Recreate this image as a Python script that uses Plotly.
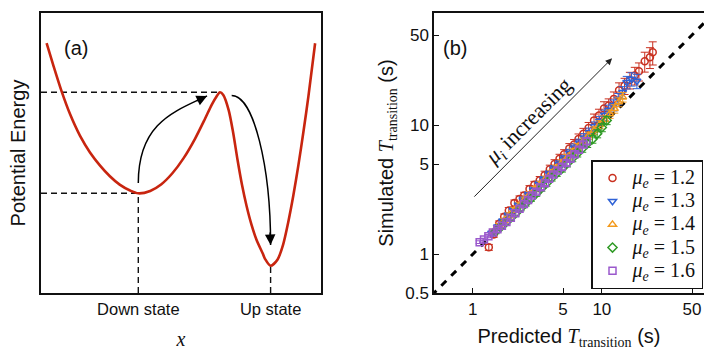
import numpy as np
import plotly.graph_objects as go

# ---------------- Panel (a): potential energy landscape (arbitrary units) ----------------
pot_x = [0.20, 0.44, 0.74, 1.04, 1.39, 1.75, 2.11, 2.46, 2.81, 3.18, 3.475,
         3.90, 4.30, 4.70, 5.10, 5.50, 5.85, 6.10, 6.27, 6.39,
         6.51, 6.70, 6.86, 7.02, 7.18, 7.34, 7.52, 7.70, 7.92, 8.00, 8.20,
         8.45, 8.65, 8.83, 9.01, 9.19, 9.37, 9.55, 9.79]
pot_u = [8.92, 8.13, 7.19, 6.38, 5.62, 5.02, 4.55, 4.17, 3.87, 3.66, 3.56,
         3.645, 3.885, 4.285, 4.825, 5.505, 6.205, 6.73, 7.02, 7.17,
         7.074, 6.542, 5.742, 4.75, 3.854, 3.118, 2.434, 1.894, 1.41, 1.22, 0.975,
         1.20, 1.74, 2.53, 3.47, 4.55, 5.74, 7.02, 8.92]
state_labels = ["Down state", "Up state"]
down_idx, peak_idx, up_idx = 10, 19, 30

# ---------------- Panel (b): simulated vs predicted transition times ----------------
mu_e = ["1.2", "1.3", "1.4", "1.5", "1.6"]

x_12 = [1.33, 1.45, 1.6, 1.75, 1.9, 2.1, 2.3, 2.5, 2.75, 3.0, 3.3, 3.6, 3.95, 4.3, 4.7, 5.1,
        5.6, 6.1, 6.6, 7.2, 7.9, 8.7, 9.5, 10.4, 11.3, 12.4, 13.6, 15.0, 16.5, 18.0, 19.4,
        21.5, 23.6, 24.8]
y_12 = [1.13, 1.42, 1.72, 1.95, 2.18, 2.49, 2.68, 2.85, 3.2, 3.45, 3.75, 4.1, 4.55, 5.0, 5.5,
        5.96, 6.6, 7.1, 7.8, 8.6, 9.5, 10.9, 11.9, 13.5, 14.2, 16.0, 18.7, 20.2, 22.4, 24.3,
        26.2, 31.3, 33.7, 36.8]
e_12 = [0.06, 0.07, 0.09, 0.1, 0.12, 0.14, 0.15, 0.17, 0.2, 0.22, 0.25, 0.3, 0.35, 0.4, 0.45,
        0.5, 0.6, 0.65, 0.75, 0.85, 1.0, 1.3, 1.4, 1.7, 1.8, 2.1, 2.6, 2.9, 3.3, 3.8, 4.2,
        5.5, 6.2, 7.5]

x_13 = [1.4, 1.55, 1.7, 1.88, 2.05, 2.25, 2.45, 2.7, 2.95, 3.25, 3.55, 3.9, 4.25, 4.65, 5.1,
        5.6, 6.1, 6.7, 7.3, 8.0, 8.8, 9.6, 10.5, 11.3, 12.3, 13.4, 14.5, 15.6, 17.0, 18.7]
y_13 = [1.45, 1.62, 1.8, 2.0, 2.2, 2.4, 2.65, 2.9, 3.15, 3.5, 3.8, 4.2, 4.6, 5.0, 5.5, 6.1,
        6.7, 7.3, 8.0, 8.8, 9.8, 10.8, 12.0, 13.1, 14.3, 16.0, 18.0, 21.5, 22.8, 22.0]
e_13 = [0.06, 0.07, 0.08, 0.09, 0.1, 0.11, 0.13, 0.14, 0.16, 0.18, 0.2, 0.23, 0.26, 0.3,
        0.34, 0.4, 0.45, 0.5, 0.6, 0.7, 0.8, 0.9, 1.1, 1.2, 1.4, 1.6, 1.9, 2.4, 2.7, 2.8]

x_14 = [1.45, 1.6, 1.75, 1.92, 2.1, 2.3, 2.52, 2.77, 3.05, 3.35, 3.68, 4.05, 4.45, 4.9, 5.4,
        5.95, 6.55, 7.2, 7.9, 8.7, 9.6, 10.5, 11.5, 12.5, 13.5, 14.5]
y_14 = [1.5, 1.66, 1.82, 2.0, 2.2, 2.4, 2.65, 2.92, 3.2, 3.5, 3.85, 4.25, 4.65, 5.1, 5.6,
        6.2, 6.8, 7.5, 8.3, 9.1, 10.1, 11.0, 12.2, 13.4, 15.1, 16.5]
e_14 = [0.06, 0.07, 0.08, 0.09, 0.1, 0.11, 0.12, 0.14, 0.15, 0.17, 0.19, 0.22, 0.25, 0.28,
        0.32, 0.36, 0.4, 0.46, 0.52, 0.6, 0.7, 0.8, 0.9, 1.0, 1.2, 1.4]

x_15 = [1.5, 1.65, 1.8, 1.97, 2.15, 2.35, 2.57, 2.82, 3.1, 3.4, 3.72, 4.08, 4.47, 4.9, 5.37,
        5.9, 6.45, 7.05, 7.7, 8.45, 9.2, 10.0, 10.9]
y_15 = [1.5, 1.63, 1.76, 1.92, 2.08, 2.28, 2.48, 2.7, 2.96, 3.25, 3.55, 3.9, 4.25, 4.6, 5.05,
        5.55, 6.05, 6.6, 7.2, 7.8, 8.6, 9.6, 10.9]
e_15 = [0.06, 0.07, 0.08, 0.09, 0.1, 0.11, 0.12, 0.13, 0.15, 0.17, 0.19, 0.21, 0.24, 0.27,
        0.3, 0.34, 0.38, 0.43, 0.48, 0.55, 0.62, 0.7, 0.8]

x_16 = [1.13, 1.22, 1.32, 1.43, 1.55, 1.68, 1.82, 1.97, 2.13, 2.3, 2.49, 2.68, 2.87, 3.1, 3.35,
        3.62, 3.9, 4.2, 4.55, 4.9, 5.3, 5.7, 6.15, 6.65, 7.2, 7.6]
y_16 = [1.24, 1.3, 1.38, 1.47, 1.56, 1.66, 1.78, 1.92, 2.08, 2.25, 2.45, 2.63, 2.85, 3.05,
        3.3, 3.55, 3.85, 4.15, 4.45, 4.75, 5.1, 5.5, 5.95, 6.45, 7.1, 7.5]
e_16 = [0.03, 0.03, 0.04, 0.04, 0.05, 0.05, 0.06, 0.06, 0.07, 0.08, 0.09, 0.1, 0.11, 0.12,
        0.13, 0.14, 0.16, 0.17, 0.19, 0.2, 0.22, 0.24, 0.27, 0.3, 0.33, 0.36]

diag = [0.4, 90.0]
y_ticks = [0.5, 1, 5, 10, 50]
y_tick_text = ["0.5", "1", "5", "10", "50"]
x_ticks = [1, 5, 10, 50]

series = [
    (mu_e[0], x_12, y_12, e_12, "circle-open", "#c9301f"),
    (mu_e[1], x_13, y_13, e_13, "triangle-down-open", "#2f62d6"),
    (mu_e[2], x_14, y_14, e_14, "triangle-up-open", "#f39a1d"),
    (mu_e[3], x_15, y_15, e_15, "diamond-open", "#2f9a25"),
    (mu_e[4], x_16, y_16, e_16, "square-open", "#9a58cc"),
]

SANS = "Liberation Sans, Arial, sans-serif"
SERIF = "Liberation Serif, Times New Roman, serif"
W, H = 704, 350


def px_x(p):
    return p / W


def px_y(p):
    return 1 - p / H


fig = go.Figure()

# ---- panel (a) ----
xd, ud = pot_x[down_idx], pot_u[down_idx]
xp, up_ = pot_x[peak_idx], pot_u[peak_idx]
xu, uu = pot_x[up_idx], pot_u[up_idx]
guide = dict(color="#111111", width=1.4, dash="6px,4px")
for gx, gy in [([0, xp], [up_, up_]), ([0, xd], [ud, ud]), ([xd, xd], [0, ud]), ([xu, xu], [0, uu])]:
    fig.add_trace(go.Scatter(x=gx, y=gy, mode="lines", line=guide, showlegend=False,
                             hoverinfo="skip", xaxis="x", yaxis="y"))
fig.add_trace(go.Scatter(x=pot_x, y=pot_u, mode="lines", showlegend=False,
                         line=dict(color="#c8250f", width=2.6, shape="spline", smoothing=0.8),
                         xaxis="x", yaxis="y"))

# ---- panel (b) ----
fig.add_trace(go.Scatter(x=diag, y=diag, mode="lines", showlegend=False, hoverinfo="skip",
                         line=dict(color="black", width=3, dash="7px,7px"),
                         xaxis="x2", yaxis="y2"))
for name, xs, ys, es, sym, col in series:
    fig.add_trace(go.Scatter(
        x=xs, y=ys, mode="markers", xaxis="x2", yaxis="y2",
        name=(f"<span style='font-size:20px'><i>μ</i><sub><i>e</i></sub>"
              f" = {name}</span>"),
        marker=dict(symbol=sym, size=7, color=col, line=dict(width=1.5, color=col)),
        error_y=dict(type="data", array=es, color=col, thickness=1, width=4),
    ))

# arrows in panel (a)
a1_start = (xd, ud + 0.37)
a1_end = (xp - 0.46, up_ - 0.13)
a2_start = (xp + 0.42, up_ - 0.12)
a2_end = (xu, uu + 0.74)
path1 = (f"M {a1_start[0]},{a1_start[1]} C {a1_start[0]},{a1_start[1] + 2.17} "
         f"{a1_start[0] + 1.33},{a1_end[1] - 0.54} {a1_end[0]},{a1_end[1]}")
path2 = (f"M {a2_start[0]},{a2_start[1]} C {a2_start[0] + 0.79},{a2_start[1]} "
         f"{a2_end[0]},{a2_end[1] + 2.8} {a2_end[0]},{a2_end[1]}")
shapes = [
    dict(type="path", path=path1, xref="x", yref="y", line=dict(color="black", width=1.5)),
    dict(type="path", path=path2, xref="x", yref="y", line=dict(color="black", width=1.5)),
]

ann = [
    dict(x=a1_end[0], y=a1_end[1], ax=a1_end[0] - 0.42, ay=a1_end[1] - 0.2, xref="x", yref="y",
         axref="x", ayref="y", showarrow=True, arrowhead=2, arrowsize=1.4, arrowwidth=1.5,
         arrowcolor="black", text=""),
    dict(x=a2_end[0], y=a2_end[1], ax=a2_end[0] - 0.02, ay=a2_end[1] + 0.5, xref="x", yref="y",
         axref="x", ayref="y", showarrow=True, arrowhead=2, arrowsize=1.4, arrowwidth=1.5,
         arrowcolor="black", text=""),
    dict(x=px_x(62), y=px_y(35), xref="paper", yref="paper", text="(a)", showarrow=False,
         font=dict(family=SANS, size=20, color="#111")),
    dict(x=px_x(455), y=px_y(35), xref="paper", yref="paper", text="(b)", showarrow=False,
         font=dict(family=SANS, size=20, color="#111")),
    # mu_i increasing arrow
    dict(x=np.log10(12.0), y=np.log10(33.0), ax=np.log10(1.0), ay=np.log10(2.72),
         xref="x2", yref="y2", axref="x2", ayref="y2", showarrow=True, arrowhead=2,
         arrowsize=1.3, arrowwidth=1, arrowcolor="#222", text=""),
    dict(x=np.log10(2.72), y=np.log10(10.6), xref="x2", yref="y2", showarrow=False,
         text="<i>μ<sub>i</sub></i> increasing", textangle=-45,
         font=dict(family=SERIF, size=22, color="#111")),
]

dom_y = [px_y(293), px_y(13)]
fig.update_layout(
    width=W, height=H, margin=dict(l=0, r=0, t=0, b=0),
    paper_bgcolor="white", plot_bgcolor="white",
    font=dict(family=SANS, color="#111"),
    xaxis=dict(domain=[px_x(41), px_x(321)], range=[0, 10], showgrid=False, zeroline=False,
               showline=True, mirror=True, linecolor="#111", linewidth=1.5,
               tickvals=[xd, xu], ticktext=state_labels, ticks="",
               tickfont=dict(family=SANS, size=16.5, color="#111"),
               title=dict(text="<i>x</i>", font=dict(family=SERIF, size=20), standoff=17),
               automargin=False),
    yaxis=dict(domain=dom_y, range=[0, 10], showgrid=False, zeroline=False, showline=True,
               mirror=True, linecolor="#111", linewidth=1.5, showticklabels=False, ticks="",
               title=dict(text="Potential Energy", font=dict(family=SANS, size=20), standoff=8),
               automargin=False),
    xaxis2=dict(domain=[px_x(434), 1.0], type="log", range=[np.log10(0.5), 1.792],
                showgrid=False, zeroline=False, showline=True, mirror=True, linecolor="#111",
                linewidth=1.5, tickvals=x_ticks, ticktext=[str(v) for v in x_ticks],
                ticks="inside", ticklen=5, tickcolor="#111",
                tickfont=dict(family=SANS, size=17, color="#111"),
                title=dict(text="Predicted <span style='font-family:Liberation Serif'><i>T</i>"
                                "<sub>transition</sub></span> (s)",
                           font=dict(family=SANS, size=20), standoff=17),
                anchor="y2", automargin=False),
    yaxis2=dict(domain=dom_y, type="log", range=[np.log10(0.5), 1.87], showgrid=False,
                zeroline=False, showline=True, mirror=False, linecolor="#111", linewidth=1.5,
                tickvals=y_ticks, ticktext=y_tick_text, ticks="inside",
                ticklen=5, tickcolor="#111", tickfont=dict(family=SANS, size=17, color="#111"),
                title=dict(text="Simulated <span style='font-family:Liberation Serif'><i>T</i>"
                                "<sub>transition</sub></span> (s)",
                           font=dict(family=SANS, size=20), standoff=6),
                anchor="x2", automargin=False),
    legend=dict(x=px_x(591), y=px_y(160), xanchor="left", yanchor="top",
                bordercolor="#111", borderwidth=1.5, bgcolor="white",
                font=dict(family=SERIF, size=15.5, color="#111"), tracegroupgap=0),
    shapes=shapes, annotations=ann,
)

fig.write_html("out.html", config={"displayModeBar": False},
               post_script="document.body.style.margin='0px';")
